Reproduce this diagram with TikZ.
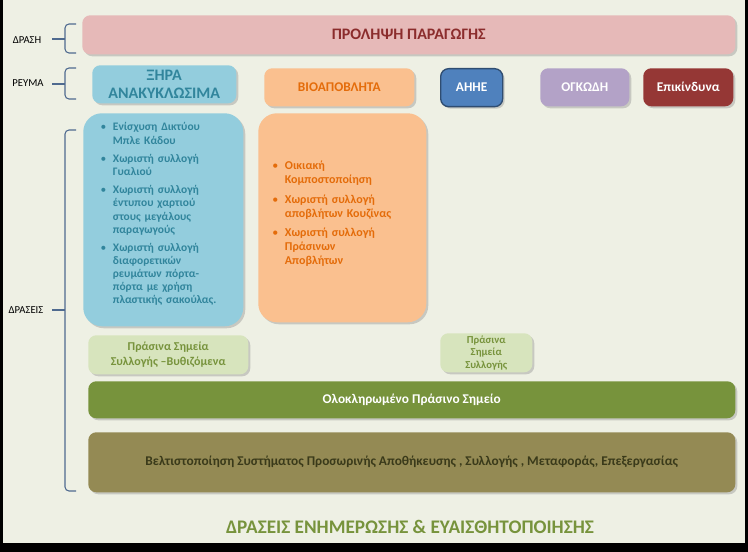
\documentclass[tikz,border=0pt]{standalone}
\usepackage{fontspec}
\setmainfont{Carlito}
\usetikzlibrary{shadows}
\definecolor{bg}{HTML}{EEF0E4}
\definecolor{pinkf}{HTML}{E6B9B8}
\definecolor{pinkt}{HTML}{8B2C2C}
\definecolor{bluef}{HTML}{93CDDD}
\definecolor{bluet}{HTML}{31859C}
\definecolor{oranf}{HTML}{FAC08F}
\definecolor{orant}{HTML}{E46C0A}
\definecolor{aheef}{HTML}{4F81BD}
\definecolor{ogkf}{HTML}{B3A2C7}
\definecolor{epif}{HTML}{953735}
\definecolor{lgf}{HTML}{D7E4BD}
\definecolor{lgt}{HTML}{77933C}
\definecolor{ogf}{HTML}{77933C}
\definecolor{brf}{HTML}{948A54}
\definecolor{brt}{HTML}{3A3A1A}
\definecolor{brace}{HTML}{4F6A8F}
\newcommand{\mylist}{\setlength{\leftmargini}{11pt}\setlength{\labelsep}{5pt}}
\tikzset{
 x=0.75pt,y=-0.75pt,
 box/.style={rounded corners=6pt,inner sep=0pt,align=center,font=\bfseries,drop shadow={shadow xshift=1.5pt,shadow yshift=-1.5pt,opacity=0.35}},
 lbl/.style={font=\footnotesize,text=black},
 br/.style={draw=brace,line width=0.8pt,rounded corners=3pt},
}
\begin{document}
\begin{tikzpicture}
\fill[black] (0,0) rectangle (748,552);
\fill[bg] (3,0) rectangle (745,543);
\useasboundingbox (0,0) rectangle (748,552);
% top bar
\node[box,fill=pinkf,text=pinkt,minimum width=653*0.75pt,minimum height=39*0.75pt,anchor=north west,font=\bfseries\large] (prol) at (82,15) {ΠΡΟΛΗΨΗ ΠΑΡΑΓΩΓΗΣ};
% streams
\node[box,fill=bluef,text=bluet,minimum width=144*0.75pt,minimum height=38*0.75pt,anchor=north west,font=\bfseries\large] (xira) at (92,65) {ΞΗΡΑ\\ΑΝΑΚΥΚΛΩΣΙΜΑ};
\node[box,fill=oranf,text=orant,minimum width=150*0.75pt,minimum height=38*0.75pt,anchor=north west] (bio) at (264,68) {ΒΙΟΑΠΟΒΛΗΤΑ};
\node[box,fill=aheef,draw=aheef!60!black,line width=1pt,text=white,minimum width=62*0.75pt,minimum height=38*0.75pt,anchor=north west] (ahee) at (440,68) {ΑΗΗΕ};
\node[box,fill=ogkf,text=white,minimum width=89*0.75pt,minimum height=38*0.75pt,anchor=north west] (ogk) at (540,68) {ΟΓΚΩΔΗ};
\node[box,fill=epif,text=white,minimum width=90*0.75pt,minimum height=38*0.75pt,anchor=north west] (epi) at (643,68) {Επικίνδυνα};
% big boxes
\node[box,rounded corners=14pt,fill=bluef,minimum width=160*0.75pt,minimum height=213*0.75pt,anchor=north west] (bluebig) at (83,113) {};
\node[anchor=north west,text=bluet,font=\bfseries\fontsize{8.6}{9.8}\selectfont,align=left,text width=150*0.75pt,inner sep=0pt] (bluetxt) at (98,107) {\mylist
\begin{itemize}\setlength{\itemsep}{4pt}\setlength{\parskip}{0pt}
\item Ενίσχυση Δικτύου\\ Μπλε Κάδου
\item Χωριστή συλλογή\\ Γυαλιού
\item Χωριστή συλλογή\\ έντυπου χαρτιού\\ στους μεγάλους\\ παραγωγούς
\item Χωριστή συλλογή\\ διαφορετικών\\ ρευμάτων πόρτα-\\ πόρτα με χρήση\\ πλαστικής σακούλας.
\end{itemize}};
\node[box,rounded corners=14pt,fill=oranf,minimum width=168*0.75pt,minimum height=209*0.75pt,anchor=north west] (oranbig) at (258,113) {};
\node[anchor=north west,text=orant,font=\bfseries\fontsize{9}{10.5}\selectfont,align=left,text width=150*0.75pt,inner sep=0pt] (orantxt) at (270,145) {\mylist
\begin{itemize}\setlength{\itemsep}{4pt}\setlength{\parskip}{0pt}
\item Οικιακή\\ Κομποστοποίηση
\item Χωριστή συλλογή\\ αποβλήτων Κουζίνας
\item Χωριστή συλλογή\\ Πράσινων\\ Αποβλήτων
\end{itemize}};
% light green
\node[box,font=\small\bfseries,fill=lgf,text=lgt,minimum width=160*0.75pt,minimum height=39*0.75pt,anchor=north west] (g1) at (88,335) {Πράσινα Σημεία\\Συλλογής –Βυθιζόμενα};
\node[box,font=\footnotesize\bfseries,fill=lgf,text=lgt,minimum width=92*0.75pt,minimum height=39*0.75pt,anchor=north west] (g2) at (440,333) {Πράσινα\\Σημεία\\Συλλογής};
\node[box,fill=ogf,text=white,minimum width=647*0.75pt,minimum height=37*0.75pt,anchor=north west] (ops) at (88,381) {Ολοκληρωμένο Πράσινο Σημείο};
\node[box,fill=brf,text=brt,minimum width=647*0.75pt,minimum height=60*0.75pt,anchor=north west] (belt) at (88,432) {Βελτιστοποίηση Συστήματος Προσωρινής Αποθήκευσης , Συλλογής , Μεταφοράς, Επεξεργασίας};
\node[text=lgt,font=\bfseries\Large] (enim) at (410,527) {ΔΡΑΣΕΙΣ ΕΝΗΜΕΡΩΣΗΣ \& ΕΥΑΙΣΘΗΤΟΠΟΙΗΣΗΣ};
% labels and braces
\node[lbl] (l1) at (27,40) {ΔΡΑΣΗ};
\node[lbl] (l2) at (28,83) {ΡΕΥΜΑ};
\node[lbl] (l3) at (26,310) {ΔΡΑΣΕΙΣ};
\draw[br] (76,24) -- (65,24) -- (65,53) -- (76,53);
\draw[br] (52,39) -- (65,39);
\draw[br] (76,68) -- (65,68) -- (65,99) -- (76,99);
\draw[br] (52,84) -- (65,84);
\draw[br] (76,130) -- (65,130) -- (65,491) -- (76,491);
\draw[br] (52,310) -- (65,310);
\end{tikzpicture}
\end{document}
